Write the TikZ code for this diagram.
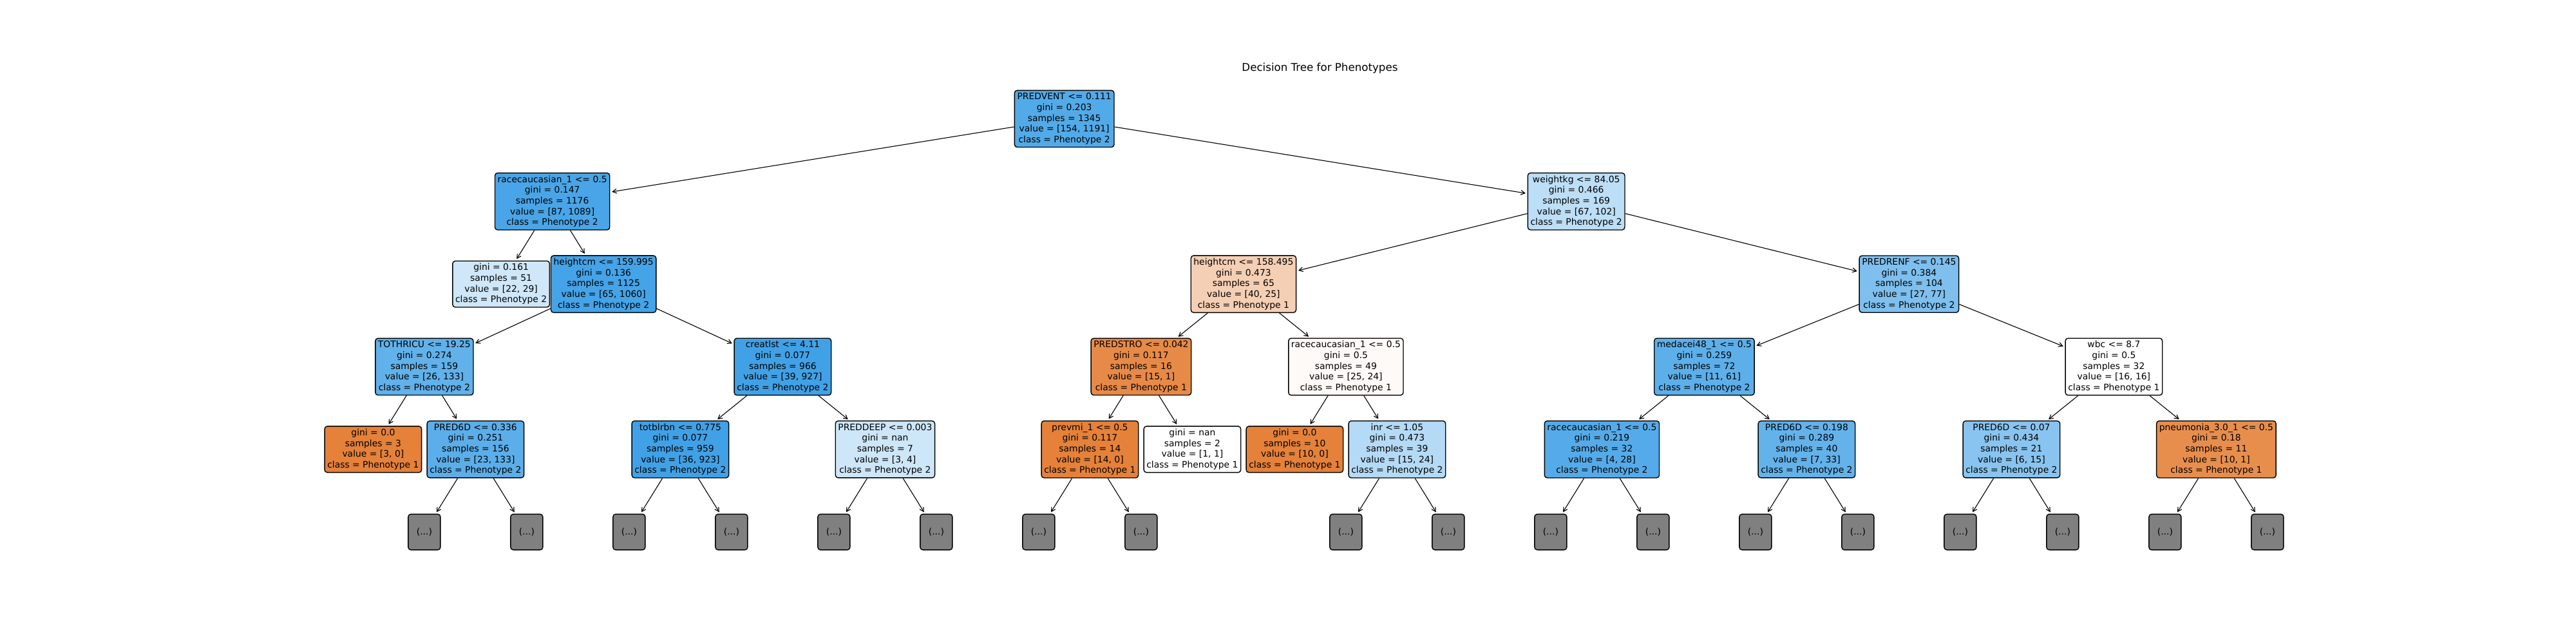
\documentclass[tikz,border=0pt]{standalone}
\usepackage{fontspec}
\setmainfont{DejaVu Sans}
\usepackage{tikz}
\usetikzlibrary{arrows.meta, positioning}
\usepackage{xcolor}
\definecolor{pheno1}{RGB}{229,129,57}
\definecolor{pheno2}{RGB}{57,157,229}

\begin{document}
\begin{tikzpicture}[
    node distance=92.4bp,
    block/.style={rectangle, draw, line width=1bp, rounded corners=3bp, inner sep=3bp, align=center, font=\fontsize{10bp}{12bp}\selectfont},
    more/.style={block, fill=gray, minimum width=36bp, minimum height=40bp},
    edge/.style={-{Straight Barb[length=4.5bp,width=5bp]}, line width=0.8bp, shorten >=2bp}
]
\useasboundingbox (0,0) rectangle (2880bp,-720bp);

% Title
\node[anchor=base, font=\fontsize{12bp}{14.4bp}\selectfont] (title) at (1475.6bp,-79.5bp) {Decision Tree for Phenotypes};

% Root
\node[block, fill=pheno2!87!white] (root) at (1189.9bp,-132.8bp) {PREDVENT <= 0.111\\ gini = 0.203\\ samples = 1345\\ value = [154, 1191]\\ class = Phenotype 2};

% Depth 1
\node[block, fill=pheno2!92!white, below of=root, xshift=-572.4bp] (race) {racecaucasian\_1 <= 0.5\\ gini = 0.147\\ samples = 1176\\ value = [87, 1089]\\ class = Phenotype 2};
\node[block, fill=pheno2!34!white, below of=root, xshift=572.4bp] (weight) {weightkg <= 84.05\\ gini = 0.466\\ samples = 169\\ value = [67, 102]\\ class = Phenotype 2};

% Depth 2
\node[block, fill=pheno2!24!white, below of=race, xshift=-57.24bp] (leafa) {gini = 0.161\\ samples = 51\\ value = [22, 29]\\ class = Phenotype 2};
\node[block, fill=pheno2!94!white, below of=race, xshift=57.24bp] (heighta) {heightcm <= 159.995\\ gini = 0.136\\ samples = 1125\\ value = [65, 1060]\\ class = Phenotype 2};
\node[block, fill=pheno1!38!white, below of=weight, xshift=-372.06bp] (heightb) {heightcm <= 158.495\\ gini = 0.473\\ samples = 65\\ value = [40, 25]\\ class = Phenotype 1};
\node[block, fill=pheno2!65!white, below of=weight, xshift=372.06bp] (renf) {PREDRENF <= 0.145\\ gini = 0.384\\ samples = 104\\ value = [27, 77]\\ class = Phenotype 2};

% Depth 3
\node[block, fill=pheno2!80!white, below of=heighta, xshift=-200.34bp] (thricu) {TOTHRICU <= 19.25\\ gini = 0.274\\ samples = 159\\ value = [26, 133]\\ class = Phenotype 2};
\node[block, fill=pheno2!96!white, below of=heighta, xshift=200.34bp] (creat) {creatlst <= 4.11\\ gini = 0.077\\ samples = 966\\ value = [39, 927]\\ class = Phenotype 2};
\node[block, fill=pheno1!93!white, below of=heightb, xshift=-114.48bp] (stro) {PREDSTRO <= 0.042\\ gini = 0.117\\ samples = 16\\ value = [15, 1]\\ class = Phenotype 1};
\node[block, fill=pheno1!4!white, below of=heightb, xshift=114.48bp] (raceb) {racecaucasian\_1 <= 0.5\\ gini = 0.5\\ samples = 49\\ value = [25, 24]\\ class = Phenotype 1};
\node[block, fill=pheno2!82!white, below of=renf, xshift=-228.96bp] (acei) {medacei48\_1 <= 0.5\\ gini = 0.259\\ samples = 72\\ value = [11, 61]\\ class = Phenotype 2};
\node[block, fill=white, below of=renf, xshift=228.96bp] (wbc) {wbc <= 8.7\\ gini = 0.5\\ samples = 32\\ value = [16, 16]\\ class = Phenotype 1};

% Depth 4
\node[block, fill=pheno1, below of=thricu, xshift=-57.24bp] (leafb) {gini = 0.0\\ samples = 3\\ value = [3, 0]\\ class = Phenotype 1};
\node[block, fill=pheno2!83!white, below of=thricu, xshift=57.24bp] (sixda) {PRED6D <= 0.336\\ gini = 0.251\\ samples = 156\\ value = [23, 133]\\ class = Phenotype 2};
\node[block, fill=pheno2!96!white, below of=creat, xshift=-114.48bp] (blrbn) {totblrbn <= 0.775\\ gini = 0.077\\ samples = 959\\ value = [36, 923]\\ class = Phenotype 2};
\node[block, fill=pheno2!25!white, below of=creat, xshift=114.48bp] (deep) {PREDDEEP <= 0.003\\ gini = nan\\ samples = 7\\ value = [3, 4]\\ class = Phenotype 2};
\node[block, fill=pheno1, below of=stro, xshift=-57.24bp] (prevmi) {prevmi\_1 <= 0.5\\ gini = 0.117\\ samples = 14\\ value = [14, 0]\\ class = Phenotype 1};
\node[block, fill=white, below of=stro, xshift=57.24bp] (leafc) {gini = nan\\ samples = 2\\ value = [1, 1]\\ class = Phenotype 1};
\node[block, fill=pheno1, below of=raceb, xshift=-57.24bp] (leafd) {gini = 0.0\\ samples = 10\\ value = [10, 0]\\ class = Phenotype 1};
\node[block, fill=pheno2!38!white, below of=raceb, xshift=57.24bp] (inr) {inr <= 1.05\\ gini = 0.473\\ samples = 39\\ value = [15, 24]\\ class = Phenotype 2};
\node[block, fill=pheno2!86!white, below of=acei, xshift=-114.48bp] (racec) {racecaucasian\_1 <= 0.5\\ gini = 0.219\\ samples = 32\\ value = [4, 28]\\ class = Phenotype 2};
\node[block, fill=pheno2!79!white, below of=acei, xshift=114.48bp] (sixdb) {PRED6D <= 0.198\\ gini = 0.289\\ samples = 40\\ value = [7, 33]\\ class = Phenotype 2};
\node[block, fill=pheno2!60!white, below of=wbc, xshift=-114.48bp] (sixdc) {PRED6D <= 0.07\\ gini = 0.434\\ samples = 21\\ value = [6, 15]\\ class = Phenotype 2};
\node[block, fill=pheno1!90!white, below of=wbc, xshift=114.48bp] (pneu) {pneumonia\_3.0\_1 <= 0.5\\ gini = 0.18\\ samples = 11\\ value = [10, 1]\\ class = Phenotype 1};

% Truncated subtrees
\node[more, below of=sixda, xshift=-57.24bp] (sixda-l) {(...)};
\node[more, below of=sixda, xshift=57.24bp] (sixda-r) {(...)};
\node[more, below of=blrbn, xshift=-57.24bp] (blrbn-l) {(...)};
\node[more, below of=blrbn, xshift=57.24bp] (blrbn-r) {(...)};
\node[more, below of=deep, xshift=-57.24bp] (deep-l) {(...)};
\node[more, below of=deep, xshift=57.24bp] (deep-r) {(...)};
\node[more, below of=prevmi, xshift=-57.24bp] (prevmi-l) {(...)};
\node[more, below of=prevmi, xshift=57.24bp] (prevmi-r) {(...)};
\node[more, below of=inr, xshift=-57.24bp] (inr-l) {(...)};
\node[more, below of=inr, xshift=57.24bp] (inr-r) {(...)};
\node[more, below of=racec, xshift=-57.24bp] (racec-l) {(...)};
\node[more, below of=racec, xshift=57.24bp] (racec-r) {(...)};
\node[more, below of=sixdb, xshift=-57.24bp] (sixdb-l) {(...)};
\node[more, below of=sixdb, xshift=57.24bp] (sixdb-r) {(...)};
\node[more, below of=sixdc, xshift=-57.24bp] (sixdc-l) {(...)};
\node[more, below of=sixdc, xshift=57.24bp] (sixdc-r) {(...)};
\node[more, below of=pneu, xshift=-57.24bp] (pneu-l) {(...)};
\node[more, below of=pneu, xshift=57.24bp] (pneu-r) {(...)};

% Connections
\draw[edge] (root) -- (race);
\draw[edge] (root) -- (weight);
\draw[edge] (race) -- (leafa);
\draw[edge] (race) -- (heighta);
\draw[edge] (weight) -- (heightb);
\draw[edge] (weight) -- (renf);
\draw[edge] (heighta) -- (thricu);
\draw[edge] (heighta) -- (creat);
\draw[edge] (heightb) -- (stro);
\draw[edge] (heightb) -- (raceb);
\draw[edge] (renf) -- (acei);
\draw[edge] (renf) -- (wbc);
\draw[edge] (thricu) -- (leafb);
\draw[edge] (thricu) -- (sixda);
\draw[edge] (creat) -- (blrbn);
\draw[edge] (creat) -- (deep);
\draw[edge] (stro) -- (prevmi);
\draw[edge] (stro) -- (leafc);
\draw[edge] (raceb) -- (leafd);
\draw[edge] (raceb) -- (inr);
\draw[edge] (acei) -- (racec);
\draw[edge] (acei) -- (sixdb);
\draw[edge] (wbc) -- (sixdc);
\draw[edge] (wbc) -- (pneu);
\draw[edge] (sixda) -- (sixda-l);
\draw[edge] (sixda) -- (sixda-r);
\draw[edge] (blrbn) -- (blrbn-l);
\draw[edge] (blrbn) -- (blrbn-r);
\draw[edge] (deep) -- (deep-l);
\draw[edge] (deep) -- (deep-r);
\draw[edge] (prevmi) -- (prevmi-l);
\draw[edge] (prevmi) -- (prevmi-r);
\draw[edge] (inr) -- (inr-l);
\draw[edge] (inr) -- (inr-r);
\draw[edge] (racec) -- (racec-l);
\draw[edge] (racec) -- (racec-r);
\draw[edge] (sixdb) -- (sixdb-l);
\draw[edge] (sixdb) -- (sixdb-r);
\draw[edge] (sixdc) -- (sixdc-l);
\draw[edge] (sixdc) -- (sixdc-r);
\draw[edge] (pneu) -- (pneu-l);
\draw[edge] (pneu) -- (pneu-r);

\end{tikzpicture}
\end{document}
